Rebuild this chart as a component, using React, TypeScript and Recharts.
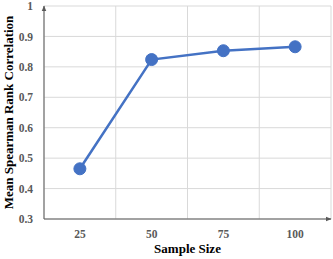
import React from 'react';
import { ComposedChart, Line, XAxis, YAxis, CartesianGrid } from 'recharts';

document.body.style.margin = '0';

const sampleSizes = ['25', '50', '75', '100'];
const meanCorrelation = [0.465, 0.824, 0.853, 0.866];
const yTicks = [0.3, 0.4, 0.5, 0.6, 0.7, 0.8, 0.9, 1];

const chartData = sampleSizes.map((size, i) => ({ size, value: meanCorrelation[i] }));

const FONT = 'Liberation Serif, serif';
const tickStyle = { fill: '#595959', fontSize: 11.5, fontWeight: 700, fontFamily: FONT };

// grid lines sit between categories (Excel style): edges of each band of the plot area
const bandEdges = ({ offset }: any) => {
  const bw = offset.width / sampleSizes.length;
  return Array.from({ length: sampleSizes.length + 1 }, (_, i) => offset.left + i * bw);
};

const YTitle = (props: any) => {
  const { viewBox } = props;
  const cx = viewBox.x + 8;
  const cy = viewBox.y + viewBox.height / 2;
  return (
    <text
      x={cx}
      y={cy}
      transform={`rotate(-90, ${cx}, ${cy})`}
      textAnchor="middle"
      dominantBaseline="central"
      fill="#000"
      fontSize={13}
      fontWeight={700}
      fontFamily={FONT}
    >
      Mean Spearman Rank Correlation
    </text>
  );
};

const App: React.FC = () => {
  return (
    <div style={{ width: 333, height: 259 }}>
      <ComposedChart
        width={333}
        height={259}
        data={chartData}
        margin={{ top: 6, right: 2, bottom: 10, left: 0 }}
      >
        <defs>
          <marker id="axisArrow" viewBox="0 0 10 10" refX="9" refY="5" markerWidth="6" markerHeight="6" orient="auto-start-reverse">
            <path d="M0,1 L10,5 L0,9 z" fill="#595959" />
          </marker>
        </defs>
        <CartesianGrid stroke="#d9d9d9" strokeWidth={1} verticalCoordinatesGenerator={bandEdges} />
        <XAxis
          dataKey="size"
          scale="band"
          height={30}
          tick={tickStyle}
          tickLine={false}
          axisLine={{ stroke: '#595959', strokeWidth: 1, markerEnd: 'url(#axisArrow)' }}
          tickMargin={5}
          label={{
            value: 'Sample Size',
            position: 'insideBottom',
            offset: -4,
            style: { fill: '#000', fontSize: 13, fontWeight: 700, fontFamily: FONT },
          }}
        />
        <YAxis
          domain={[0.3, 1]}
          ticks={yTicks}
          width={44}
          tick={tickStyle}
          tickLine={false}
          axisLine={{ stroke: '#595959', strokeWidth: 1, markerStart: 'url(#axisArrow)' }}
          tickMargin={5}
          interval={0}
          label={<YTitle />}
        />
        <Line
          dataKey="value"
          stroke="#4472C4"
          strokeWidth={2.5}
          dot={{ r: 6, fill: '#4472C4', stroke: '#4472C4', strokeWidth: 1 }}
          isAnimationActive={false}
        />
      </ComposedChart>
    </div>
  );
};

export default App;
